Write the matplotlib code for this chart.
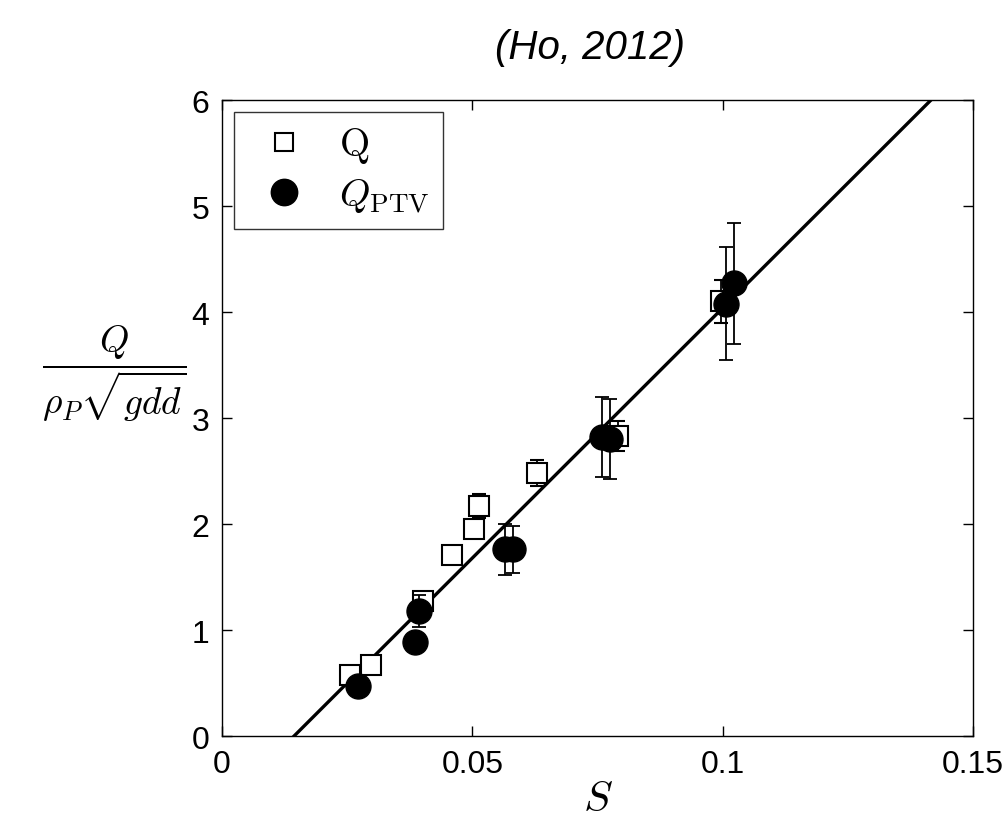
import numpy as np
import matplotlib
matplotlib.use('Agg')
import matplotlib.pyplot as plt
from matplotlib.lines import Line2D

plt.rcParams['font.family'] = ['Liberation Sans', 'DejaVu Sans']
plt.rcParams['mathtext.fontset'] = 'cm'

# Q (open squares)
s_q = [0.0256, 0.0297, 0.0401, 0.0460, 0.0504, 0.0513, 0.0629, 0.0790, 0.0996]
q_q = [0.58, 0.67, 1.27, 1.71, 1.95, 2.17, 2.48, 2.83, 4.10]
q_err = [0.0, 0.04, 0.06, 0.08, 0.0, 0.11, 0.12, 0.14, 0.20]

# Q_PTV (filled circles)
s_ptv = [0.0272, 0.0386, 0.0394, 0.0566, 0.0582, 0.0758, 0.0774, 0.1006, 0.1022]
q_ptv = [0.47, 0.89, 1.18, 1.76, 1.76, 2.82, 2.80, 4.08, 4.27]
ptv_err = [0.0, 0.0, 0.15, 0.24, 0.22, 0.38, 0.38, 0.53, 0.57]

# fitted line
line_s = [0.0144, 0.1416]
line_q = [0.0, 6.0]

fig = plt.figure(figsize=(10.05, 8.2), dpi=100)
ax = fig.add_axes([0.2209, 0.1012, 0.7473, 0.7756])

ax.plot(line_s, line_q, color='black', lw=2.4, zorder=2)

ax.errorbar(s_q, q_q, yerr=q_err, fmt='s', ms=14, mfc='white', mec='black',
            mew=1.5, ecolor='black', elinewidth=1.3, capsize=5, capthick=1.3,
            zorder=3)
ax.errorbar(s_ptv, q_ptv, yerr=ptv_err, fmt='o', ms=18, mfc='black', mec='black',
            ecolor='black', elinewidth=1.3, capsize=5, capthick=1.3,
            zorder=4)

ax.set_xlim(0, 0.15)
ax.set_ylim(0, 6)
ax.set_xticks([0, 0.05, 0.1, 0.15])
ax.set_xticklabels(['0', '0.05', '0.1', '0.15'])
ax.set_yticks([0, 1, 2, 3, 4, 5, 6])
ax.tick_params(direction='in', top=True, right=True, length=7, width=1,
               labelsize=23, pad=9)
for sp in ax.spines.values():
    sp.set_linewidth(1.0)

ax.set_xlabel(r'$S$', fontsize=31, labelpad=0)
ax.set_ylabel(r'$\dfrac{Q}{\rho_P\sqrt{gdd}}$', fontsize=27, rotation=0,
              labelpad=0, va='center')
ax.yaxis.set_label_coords(-0.143, 0.572)

handles = [
    Line2D([], [], ls='none', marker='s', ms=13, mfc='white', mec='black', mew=1.5),
    Line2D([], [], ls='none', marker='o', ms=19, mfc='black', mec='black'),
]
leg = ax.legend(handles, [r'$\mathrm{Q}$', r'$Q_{\mathrm{PTV}}$'],
                loc='upper left', fontsize=28, frameon=True, fancybox=False,
                edgecolor='black', borderaxespad=0.3, handletextpad=0.45,
                borderpad=0.35, labelspacing=0.3, handlelength=1.9)
leg.get_frame().set_linewidth(1.0)

fig.text(0.587, 0.941, '(Ho, 2012)', fontsize=29, style='italic',
         ha='center', va='center')

fig.savefig('out.png', dpi=100)
